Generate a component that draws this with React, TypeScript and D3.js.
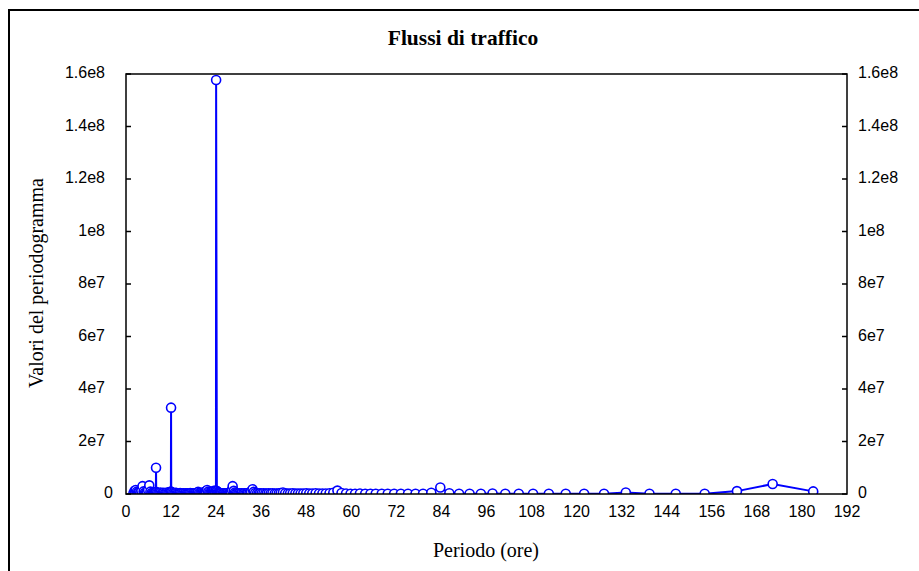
import React from "react";
import * as d3 from "d3";

// ---- Data (period in hours, periodogram value) ----
const lowPeriods = [
  2.0, 2.3, 2.6, 2.9, 3.2, 3.5, 3.8, 4.1, 4.4, 4.7, 5.0, 5.3, 5.6, 5.9, 6.2, 6.5, 6.8, 7.1, 7.4, 7.7,
  7.95, 8.0, 8.05,
  8.3, 8.6, 8.9, 9.2, 9.5, 9.8, 10.1, 10.4, 10.7, 11.0, 11.3, 11.6,
  11.95, 12.0, 12.05,
  12.3, 12.6, 12.9, 13.2, 13.5, 13.8, 14.1, 14.4, 14.7, 15.0,
  15.3, 15.6, 15.9, 16.2, 16.5, 16.8, 17.1, 17.4, 17.7, 18.0,
  18.3, 18.6, 18.9, 19.2, 19.5, 19.8, 20.1, 20.4, 20.7, 21.0,
  21.3, 21.6, 21.9, 22.2, 22.5, 22.8, 23.1, 23.4, 23.7,
  23.95,
];
const lowValues = [
  4e5, 1.2e6, 1.5e6, 9e5, 6e5, 8e5, 5e5, 1.2e6, 3.0e6, 1.0e6, 5e5, 4e5, 8e5, 1.5e6, 3.3e6, 9e5, 4e5, 3e5, 5e5, 6e5,
  8e5, 1.0e7, 7e5,
  5e5, 3e5, 4e5, 6e5, 3e5, 4e5, 5e5, 3e5, 4e5, 6e5, 5e5, 7e5,
  9e5, 3.29e7, 8e5,
  6e5, 4e5, 3e5, 5e5, 4e5, 3e5, 2e5, 4e5, 3e5, 2e5,
  3e5, 2e5, 3e5, 2e5, 2e5, 3e5, 4e5, 3e5, 2e5, 3e5,
  3e5, 4e5, 3e5, 8e5, 5e5, 3e5, 4e5, 6e5, 5e5, 7e5,
  1.0e6, 1.5e6, 9e5, 6e5, 5e5, 7e5, 9e5, 1.2e6, 1.0e6,
  1.3e6,
];
const highPeriods = [
  24.0, 24.2, 24.4, 24.6, 24.8, 25.0, 25.2, 25.4, 25.7, 25.9,
  26.1, 26.4, 26.6, 26.9, 27.1, 27.4, 27.6, 27.9, 28.2, 28.4,
  28.7, 29.0, 29.3, 29.6, 29.9, 30.2, 30.5, 30.8, 31.2, 31.5,
  31.8, 32.2, 32.5, 32.9, 33.3, 33.7, 34.0, 34.4, 34.9, 35.3,
  35.7, 36.1, 36.6, 37.1, 37.5, 38.0, 38.5, 39.0, 39.6, 40.1,
  40.7, 41.2, 41.8, 42.4, 43.1, 43.7, 44.4, 45.1, 45.8, 46.5,
  47.2, 48.0, 48.8, 49.6, 50.5, 51.4, 52.3, 53.2, 54.2, 55.2,
  56.3, 57.4, 58.6, 59.8, 61.0, 62.3, 63.7, 65.1, 66.5, 68.1,
  69.7, 71.4, 73.2, 75.1, 77.1, 79.1, 81.3, 83.7, 86.1, 88.7,
  91.5, 94.5, 97.6, 101.0, 104.6, 108.4, 112.6, 117.1, 122.0, 127.3,
  133.1, 139.4, 146.4, 154.1, 162.7, 172.2, 183.0,
];
const highValues = [
  1.577e8, 1.1e6, 7e5, 5e5, 4e5, 3e5, 4e5, 3e5, 2e5, 3e5,
  2e5, 3e5, 2e5, 3e5, 4e5, 3e5, 5e5, 8e5, 1.5e6, 3.0e6,
  1.2e6, 6e5, 4e5, 3e5, 2e5, 3e5, 2e5, 3e5, 2e5, 3e5,
  2e5, 3e5, 4e5, 6e5, 9e5, 1.8e6, 8e5, 4e5, 3e5, 2e5,
  3e5, 2e5, 3e5, 2e5, 2e5, 3e5, 2e5, 3e5, 2e5, 2e5,
  3e5, 4e5, 6e5, 3e5, 2e5, 2e5, 3e5, 2e5, 2e5, 2e5,
  2e5, 3e5, 2e5, 2e5, 3e5, 2e5, 2e5, 2e5, 3e5, 5e5,
  1.3e6, 4e5, 2e5, 1e5, 1e5, 2e5, 1e5, 1e5, 1e5, 1e5,
  1e5, 1e5, 1e5, 1e5, 1e5, 1e5, 5e5, 2.5e6, 3e5, 1e5,
  1e5, 1e5, 2e5, 1e5, 1e5, 1e5, 1e5, 1e5, 1e5, 1e5,
  6e5, 1e5, 1e5, 1e5, 1.1e6, 3.8e6, 1.0e6,
];
const xTicks = [0, 12, 24, 36, 48, 60, 72, 84, 96, 108, 120, 132, 144, 156, 168, 180, 192];
const yTicks = [0, 2e7, 4e7, 6e7, 8e7, 1e8, 1.2e8, 1.4e8, 1.6e8];

const TITLE = "Flussi di traffico";
const X_LABEL = "Periodo (ore)";
const Y_LABEL = "Valori del periodogramma";

const W = 919;
const H = 571;
const left = 126, right = 847, top = 74, bottom = 494;

function fmtY(v: number): string {
  if (v === 0) return "0";
  const e = Math.floor(Math.log10(v) + 1e-9);
  const m = v / Math.pow(10, e);
  return `${+m.toFixed(1)}e${e}`;
}

export default function App() {
  const x = d3.scaleLinear().domain([0, 192]).range([left, right]);
  const y = d3.scaleLinear().domain([0, 1.6e8]).range([bottom, top]);

  const pts: [number, number][] = [];
  lowPeriods.forEach((p, i) => pts.push([p, lowValues[i]]));
  highPeriods.forEach((p, i) => pts.push([p, highValues[i]]));
  pts.sort((a, b) => a[0] - b[0]);

  const line = d3
    .line<[number, number]>()
    .x((d) => x(d[0]))
    .y((d) => y(d[1]));

  const tickFont = "'Liberation Sans', Arial, sans-serif";
  const serif = "'Liberation Serif', 'Times New Roman', serif";

  return (
    <svg
      width={W}
      height={H}
      style={{ position: "absolute", left: 0, top: 0, background: "#fff" }}
    >
      <rect x={0} y={0} width={W} height={H} fill="#fff" />
      <rect x={9} y={10} width={1200} height={1200} fill="none" stroke="#000" strokeWidth={2} />

      <text
        x={463}
        y={45}
        textAnchor="middle"
        fontFamily={serif}
        fontWeight="bold"
        fontSize={21.5}
      >
        {TITLE}
      </text>

      <defs>
        <clipPath id="plotClip">
          <rect x={left} y={top - 6} width={right - left} height={bottom - top + 6} />
        </clipPath>
      </defs>

      <g clipPath="url(#plotClip)">
        <path d={line(pts) || ""} fill="none" stroke="#0000ff" strokeWidth={2} />
        {pts.map((d, i) => (
          <circle
            key={i}
            cx={x(d[0])}
            cy={y(d[1])}
            r={4.5}
            fill="#fff"
            stroke="#0000ff"
            strokeWidth={1.6}
          />
        ))}
      </g>

      <rect
        x={left}
        y={top}
        width={right - left}
        height={bottom - top}
        fill="none"
        stroke="#000"
        strokeWidth={1.5}
      />

      {yTicks.map((t) => (
        <g key={"y" + t}>
          <line x1={left} x2={left + 5} y1={y(t)} y2={y(t)} stroke="#000" strokeWidth={1.5} />
          <line x1={right} x2={right - 5} y1={y(t)} y2={y(t)} stroke="#000" strokeWidth={1.5} />
          <text
            x={t === 0 ? 113 : 105}
            y={y(t)}
            textAnchor="end"
            dominantBaseline="middle"
            fontFamily={tickFont}
            fontSize={16}
          >
            {fmtY(t)}
          </text>
          <text
            x={858}
            y={y(t)}
            textAnchor="start"
            dominantBaseline="middle"
            fontFamily={tickFont}
            fontSize={16}
          >
            {fmtY(t)}
          </text>
        </g>
      ))}

      {xTicks.map((t) => (
        <text
          key={"x" + t}
          x={x(t)}
          y={513}
          textAnchor="middle"
          dominantBaseline="middle"
          fontFamily={tickFont}
          fontSize={16}
        >
          {t}
        </text>
      ))}

      <text
        x={486}
        y={557}
        textAnchor="middle"
        fontFamily={serif}
        fontSize={20}
      >
        {X_LABEL}
      </text>
      <text
        transform={`translate(43, 283) rotate(-90)`}
        textAnchor="middle"
        fontFamily={serif}
        fontSize={20}
      >
        {Y_LABEL}
      </text>
    </svg>
  );
}
